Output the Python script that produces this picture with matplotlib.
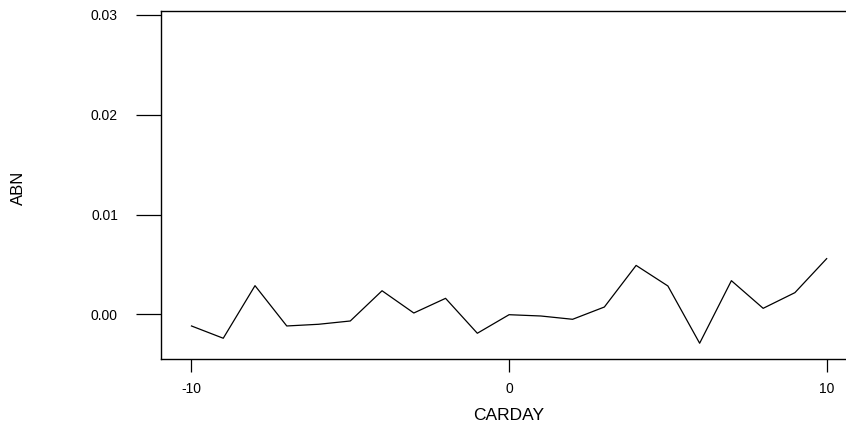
import matplotlib
matplotlib.use("Agg")
import matplotlib.pyplot as plt

plt.rcParams['font.family'] = ['Liberation Sans', 'DejaVu Sans']

# event-window days and abnormal values
carday = [-10, -9, -8, -7, -6, -5, -4, -3, -2, -1, 0, 1, 2, 3, 4, 5, 6, 7, 8, 9, 10]
abn = [-0.00117, -0.0024, 0.00287, -0.00117, -0.0010, -0.00067, 0.00236,
       0.00013, 0.0016, -0.0019, -0.00004, -0.00017, -0.0005, 0.00073,
       0.0049, 0.00284, -0.0029, 0.00337, 0.0006, 0.00217, 0.00558]

x_ticks = [-10, 0, 10]
y_ticks = [0.00, 0.01, 0.02, 0.03]
y_labels = ['0.00', '0.01', '0.02', '0.03']

W, H = 846, 430
fig = plt.figure(figsize=(W / 100, H / 100), dpi=100)
left, right, top, bottom = 161, 847, 10.5, 358.7
ax = fig.add_axes([left / W, (H - bottom) / H, (right - left) / W, (bottom - top) / H])

ax.plot(carday, abn, color='black', linewidth=0.9)

ax.set_xlim(-10.96, 10.64)
ax.set_ylim(-0.00445, 0.03045)

ax.spines['right'].set_visible(False)
for s in ['left', 'top', 'bottom']:
    ax.spines[s].set_linewidth(1.0)

ax.set_xticks(x_ticks)
ax.set_xticklabels([str(t) for t in x_ticks])
ax.set_yticks(y_ticks)
ax.set_yticklabels(y_labels)
ax.tick_params(axis='x', length=9, width=0.9, pad=8, labelsize=10)
ax.tick_params(axis='y', length=18, width=0.9, pad=13, labelsize=10)

fig.text(509 / W, (H - 415) / H, 'CARDAY', ha='center', va='center', fontsize=12.5)
fig.text(18 / W, (H - 188) / H, 'ABN', ha='center', va='center', rotation=90, fontsize=12)

fig.savefig('out.png', dpi=100)
